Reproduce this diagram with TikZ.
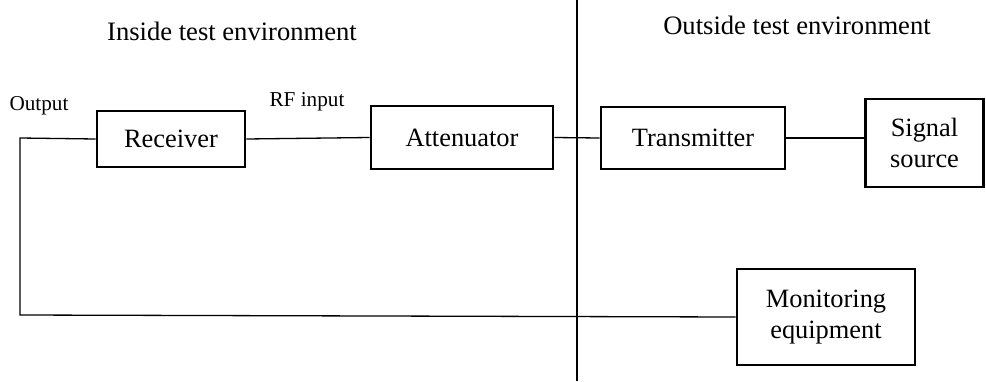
\documentclass[tikz,border=0pt]{standalone}
\usepackage{fontspec}
\setmainfont{Liberation Serif}
\begin{document}
\begin{tikzpicture}[x=1pt,y=-1pt,
  blk/.style={draw,line width=2.7pt,inner sep=0pt,align=center,font=\fontsize{26.4}{30.5}\selectfont},
  wire/.style={line width=1.3pt},
  lbl/.style={inner sep=0pt,font=\fontsize{21.2}{24}\selectfont},
  big/.style={inner sep=0pt,font=\fontsize{26.6}{30}\selectfont}]
\useasboundingbox (0,0) rectangle (986,381);
\node[blk,minimum width=148pt,minimum height=56pt] (rx) at (171,139) {Receiver};
\node[blk,minimum width=182pt,minimum height=63pt] (att) at (462,137.5) {Attenuator};
\node[blk,minimum width=184pt,minimum height=62pt] (tx) at (693,138) {Transmitter};
\node[blk,minimum width=118pt,minimum height=88pt] (sig) at (924.5,143) {Signal\\source};
\node[blk,minimum width=178pt,minimum height=96pt] (mon) at (826,317) {Monitoring\\equipment};
\node[big] (inside) at (232,31) {Inside test environment};
\node[big] (outside) at (797,25) {Outside test environment};
\node[lbl] (out) at (39,106) {Output};
\node[lbl] (rfin) at (307,102) {RF input};
\coordinate (dtop) at (577,0);
\coordinate (dbot) at (577,381);
\coordinate (c1) at (20,138);
\coordinate (c2) at (20,315);
\draw[wire] (dtop) -- (dbot);
\draw[wire] (rx.west) -- (c1) -- (c2) -- (mon.west);
\draw[wire] (rx.east) -- (att.west);
\draw[wire] (att.east) -- (tx.west);
\draw[wire] (tx.east) -- (sig.west |- tx.east);
\end{tikzpicture}
\end{document}
